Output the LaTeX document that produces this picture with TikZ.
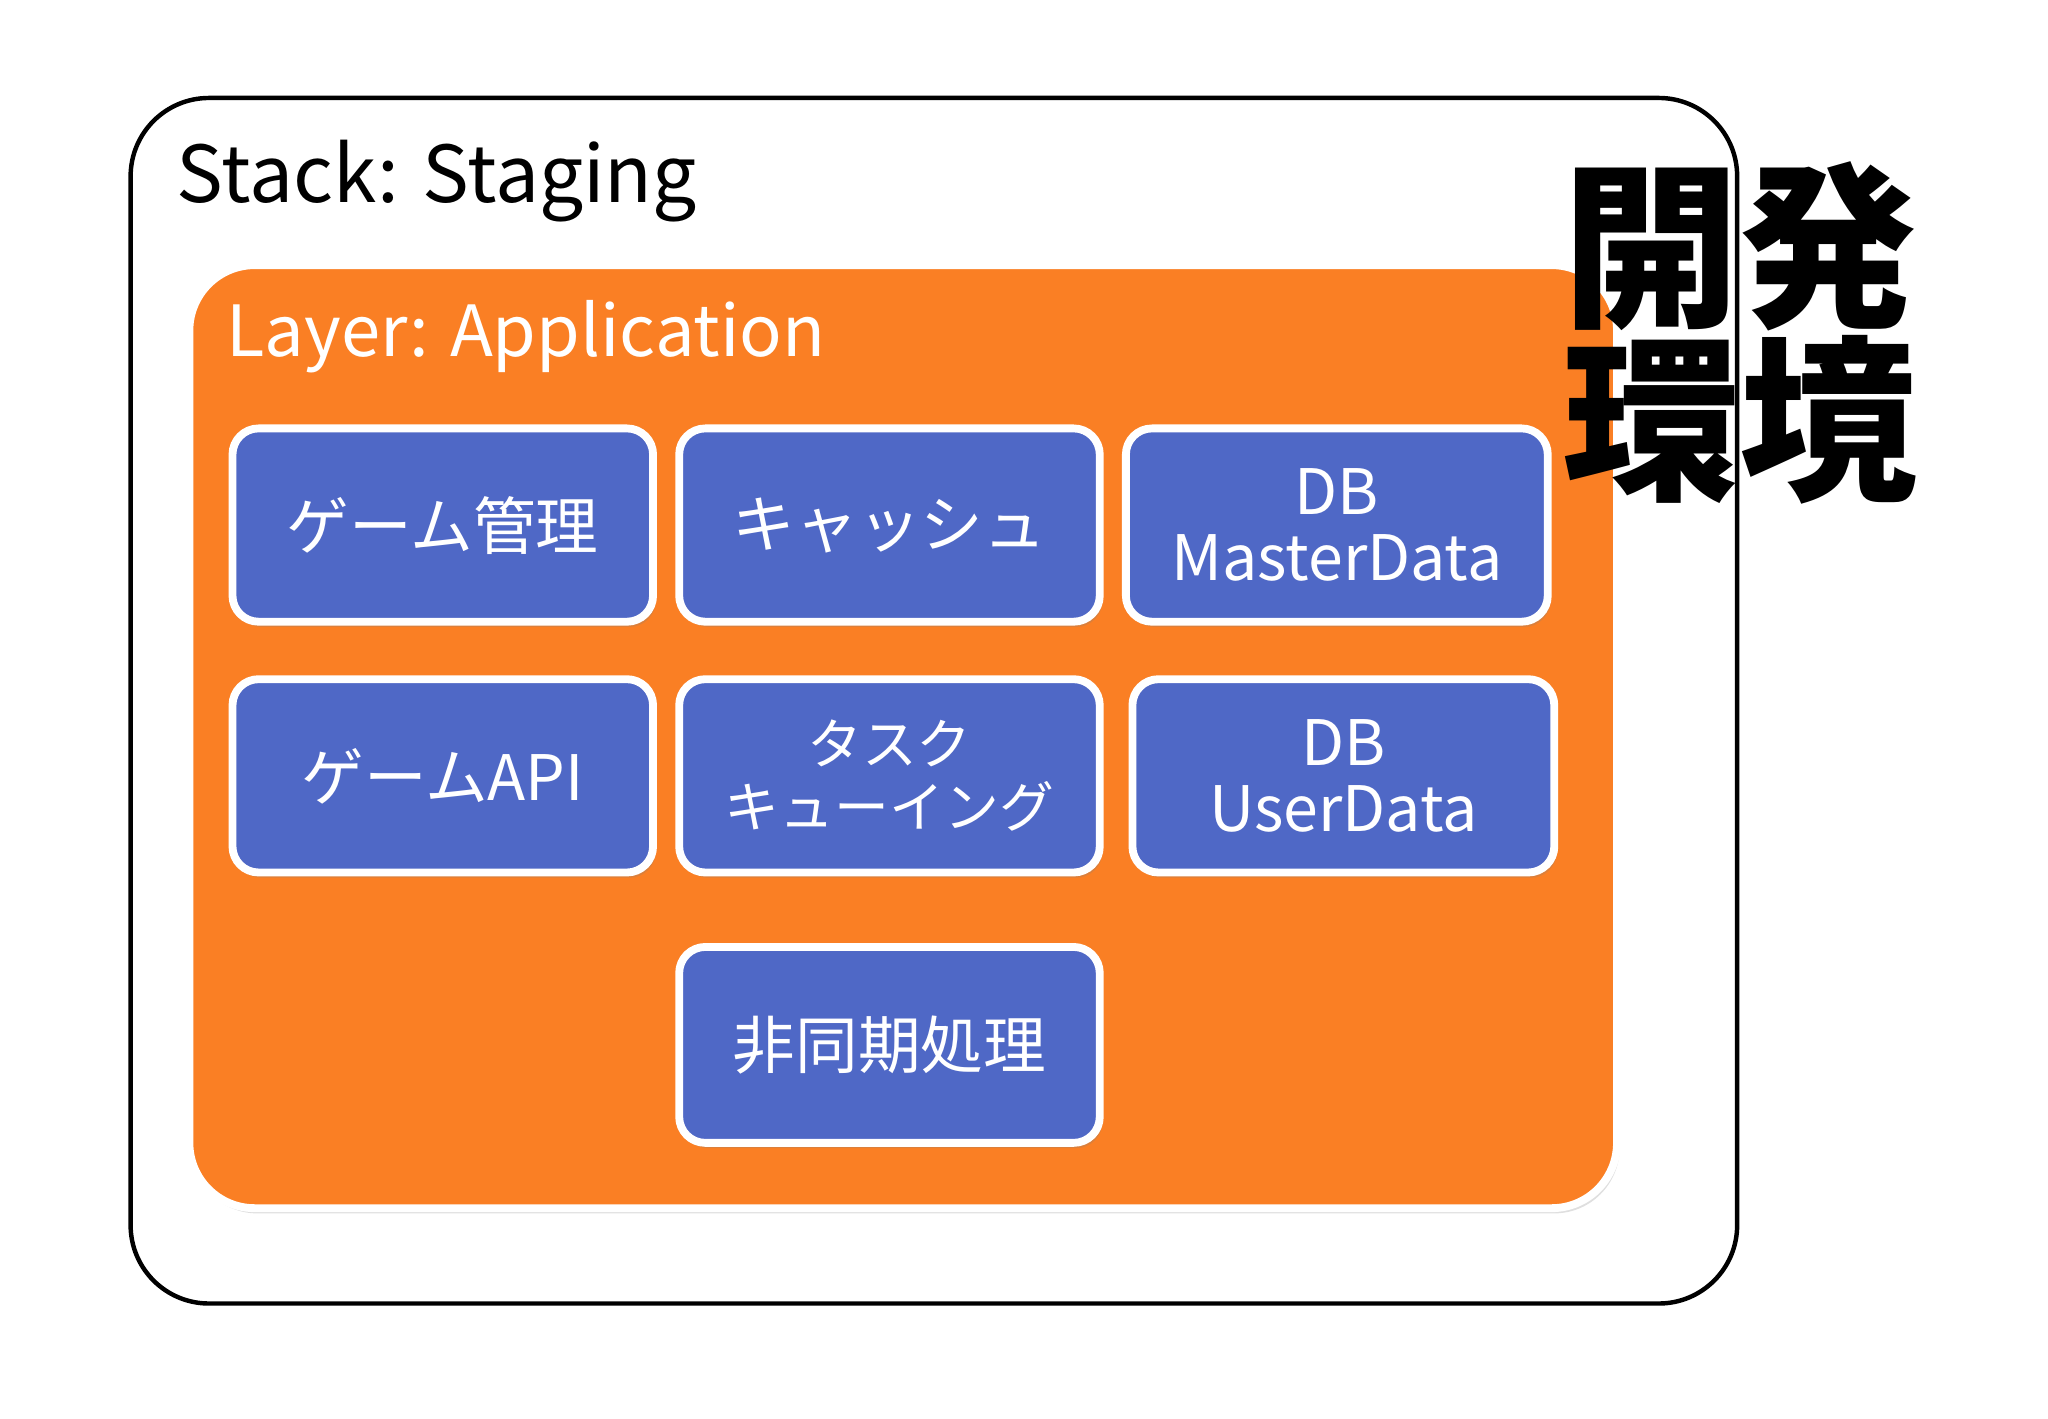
\documentclass[tikz,border=0pt]{standalone}
\usepackage{fontspec}
\setmainfont{Noto Sans CJK JP}
\newfontfamily\cjk{Noto Sans CJK JP}
\usetikzlibrary{shadows}
\definecolor{org}{HTML}{FA7F24}
\definecolor{blu}{HTML}{4F68C6}
\begin{document}
\begin{tikzpicture}[x=0.5pt,y=-0.5pt,
  box/.style={draw=white,line width=3pt,fill=blu,rounded corners=10pt,
    drop shadow={shadow xshift=1pt,shadow yshift=-2pt,opacity=0.25},
    text=white,font=\fontsize{24}{26}\selectfont,align=center,inner sep=0pt},
  lbl/.style={text=white,font=\fontsize{24}{25}\selectfont,align=center}]
\useasboundingbox (0,0) rectangle (1568,1086);
\draw[line width=1.7pt,rounded corners=30pt] (100,75) rectangle (1330,998);
\node[anchor=base west,font=\fontsize{30}{32}\selectfont,inner sep=0] (st) at (135,155) {Stack: Staging};
\draw[draw=white,line width=3pt,fill=org,rounded corners=25pt,
  drop shadow={shadow xshift=1pt,shadow yshift=-2pt,opacity=0.25}] (145,203) rectangle (1238,925);
\node[anchor=base west,text=white,font=\fontsize{27}{30}\selectfont,inner sep=0] (ly) at (173,273) {Layer: Application};
\foreach \n/\xa/\ya/\xb/\yb in {a/178/328/500/476, b/520/328/842/476, c/862/328/1185/476,
  d/178/520/500/668, e/520/520/842/668, f/867/520/1190/668, g/520/725/842/875}{
  \draw[box] (\xa,\ya) rectangle (\xb,\yb);
  \coordinate (\n) at ({(\xa+\xb)/2},{(\ya+\yb)/2});
}
\node[lbl] (ta) at (a) {ゲーム管理};
\node[lbl] (tb) at (b) {キャッシュ};
\node[lbl] (tc) at (c) {DB\\MasterData};
\node[lbl] (td) at (d) {ゲームAPI};
\node[lbl,font=\fontsize{21}{24}\selectfont] (te) at (e) {タスク\\キューイング};
\node[lbl] (tf) at (f) {DB\\UserData};
\node[lbl] (tg) at (g) {非同期処理};
\node[font=\cjk\bfseries\fontsize{68}{66}\selectfont,align=center,inner sep=0] (kk) at (1332,255) {開発\\環境};
\end{tikzpicture}
\end{document}
